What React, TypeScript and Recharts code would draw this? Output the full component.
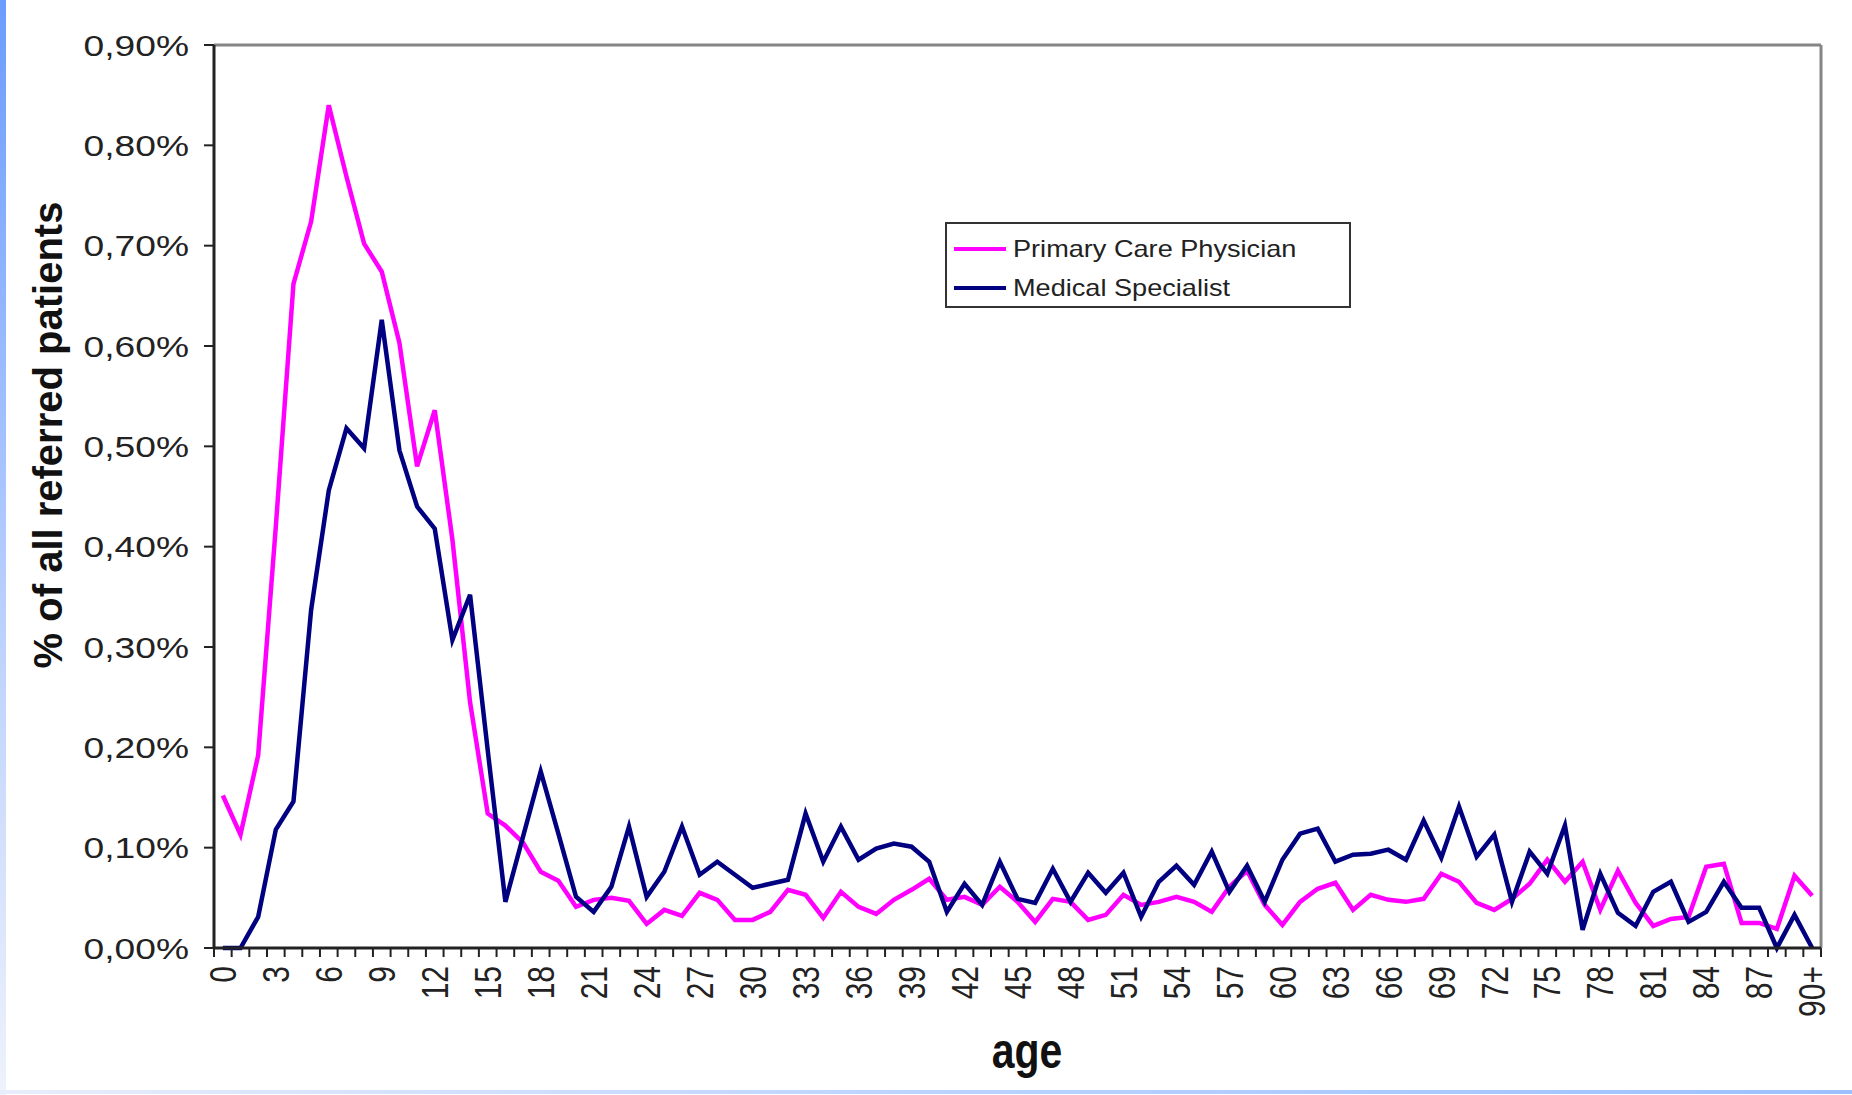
import { LineChart, Line, XAxis, YAxis, Legend, CartesianGrid } from "recharts";

// ages 0..89 plus the open class
const AGES: string[] = Array.from({ length: 90 }, (_, i) => String(i)).concat("90+");

// share of all referred patients, in percent
const PRIMARY_CARE = [
  0.152, 0.113, 0.192, 0.42, 0.662, 0.724, 0.84, 0.769, 0.702, 0.674,
  0.603, 0.48, 0.536, 0.407, 0.245, 0.134, 0.122, 0.105, 0.076, 0.067,
  0.041, 0.048, 0.05, 0.047, 0.024, 0.038, 0.032, 0.055, 0.048, 0.028,
  0.028, 0.036, 0.058, 0.053, 0.03, 0.056, 0.041, 0.034, 0.048, 0.058,
  0.069, 0.048, 0.051, 0.043, 0.061, 0.046, 0.026, 0.049, 0.046, 0.028,
  0.033, 0.053, 0.043, 0.046, 0.051, 0.046, 0.036, 0.061, 0.077, 0.043,
  0.023, 0.046, 0.059, 0.065, 0.038, 0.053, 0.048, 0.046, 0.049, 0.074,
  0.066, 0.045, 0.038, 0.049, 0.064, 0.088, 0.066, 0.086, 0.038, 0.077,
  0.045, 0.022, 0.029, 0.031, 0.081, 0.084, 0.025, 0.025, 0.019, 0.072,
  0.052,
];

const SPECIALIST = [
  0, 0, 0.031, 0.118, 0.146, 0.337, 0.456, 0.518, 0.498, 0.626,
  0.496, 0.44, 0.418, 0.307, 0.352, 0.197, 0.046, 0.111, 0.176, 0.114,
  0.051, 0.036, 0.061, 0.121, 0.051, 0.076, 0.121, 0.073, 0.086, 0.073,
  0.06, 0.064, 0.068, 0.134, 0.086, 0.121, 0.088, 0.099, 0.104, 0.101,
  0.086, 0.036, 0.064, 0.043, 0.086, 0.049, 0.045, 0.079, 0.046, 0.075,
  0.055, 0.075, 0.031, 0.066, 0.082, 0.063, 0.096, 0.056, 0.082, 0.046,
  0.088, 0.114, 0.119, 0.086, 0.093, 0.094, 0.098, 0.088, 0.127, 0.09,
  0.141, 0.091, 0.113, 0.046, 0.096, 0.074, 0.122, 0.018, 0.074, 0.035,
  0.022, 0.056, 0.066, 0.026, 0.036, 0.066, 0.04, 0.04, 0, 0.033,
  0,
];

const Y_TICKS = [0, 0.1, 0.2, 0.3, 0.4, 0.5, 0.6, 0.7, 0.8, 0.9];

const data = AGES.map((age, i) => ({
  age,
  pcp: PRIMARY_CARE[i],
  spec: SPECIALIST[i],
}));

const W = 1852;
const H = 1095;
const M = { top: 45, right: 31, bottom: 47, left: 0 };
const PLOT_W = 1607;
const HALF_BAND = PLOT_W / AGES.length / 2;
const FONT = "'Liberation Sans', Arial, sans-serif";
const INK = "#222";

const fmt = (v: number) => v.toFixed(2).replace(".", ",") + "%";

function YTick({ x, y, payload }: any) {
  return (
    <text
      transform={`translate(${x},${y}) scale(1.24,1)`}
      textAnchor="end"
      dominantBaseline="central"
      fontSize={30}
      fontFamily={FONT}
      fill={INK}
    >
      {fmt(payload.value)}
    </text>
  );
}

function AgeTick({ x, y, payload }: any) {
  const i = AGES.indexOf(payload.value);
  const last = i === AGES.length - 1;
  return (
    <g>
      <line x1={x - HALF_BAND} x2={x - HALF_BAND} y1={y} y2={y + 9} stroke={INK} strokeWidth={2} />
      {last && (
        <line x1={x + HALF_BAND} x2={x + HALF_BAND} y1={y} y2={y + 9} stroke={INK} strokeWidth={2} />
      )}
      {i % 3 === 0 && (
        <text
          transform={`translate(${x},${y + 18}) scale(1.24,1) rotate(-90)`}
          textAnchor="end"
          dominantBaseline="central"
          fontSize={30}
          fontFamily={FONT}
          fill={INK}
        >
          {payload.value}
        </text>
      )}
    </g>
  );
}

function LegendBox() {
  const rows = [
    { name: "Primary Care Physician", color: "#ff00ff", top: 25 },
    { name: "Medical Specialist", color: "#000080", top: 64 },
  ];
  return (
    <div
      style={{
        position: "relative",
        width: 402,
        height: 82,
        border: "2px solid #333",
        background: "#fff",
        fontFamily: FONT,
      }}
    >
      {rows.map((r) => (
        <div key={r.name}>
          <div
            style={{
              position: "absolute",
              left: 7,
              top: r.top - 2,
              width: 52,
              height: 4,
              background: r.color,
            }}
          />
          <span
            style={{
              position: "absolute",
              left: 66,
              top: r.top - 14,
              fontSize: 24,
              lineHeight: "28px",
              color: INK,
              whiteSpace: "nowrap",
              transform: "scaleX(1.13)",
              transformOrigin: "left center",
            }}
          >
            {r.name}
          </span>
        </div>
      ))}
    </div>
  );
}

export default function App() {
  return (
    <div
      style={{
        position: "absolute",
        left: 0,
        top: 0,
        width: W,
        height: H,
        background: "#fff",
        overflow: "hidden",
      }}
    >
      <div
        style={{
          position: "absolute",
          left: 0,
          top: 0,
          width: 6,
          height: H,
          background: "linear-gradient(to bottom, #6b9cff, #b9cffd 55%, #eef2fb)",
        }}
      />
      <div
        style={{
          position: "absolute",
          left: 0,
          top: H - 5,
          width: W,
          height: 4,
          background: "linear-gradient(to right, #e8edfb, #bcd3fd 50%, #9cc0ff)",
        }}
      />
      <LineChart width={W} height={H} data={data} margin={M}>
        {/* grey frame on the top and right edges of the plot */}
        <CartesianGrid
          horizontalPoints={[M.top]}
          verticalPoints={[W - M.right]}
          stroke="#858585"
          strokeWidth={3}
          strokeDasharray=""
        />
        <XAxis
          dataKey="age"
          interval={0}
          height={100}
          padding={{ left: HALF_BAND, right: HALF_BAND }}
          tickLine={false}
          tickSize={0}
          tickMargin={0}
          tick={<AgeTick />}
          axisLine={{ stroke: INK, strokeWidth: 3 }}
          label={() => (
            <text
              transform="translate(1027,1051) scale(0.82,1)"
              textAnchor="middle"
              dominantBaseline="central"
              fontSize={50}
              fontWeight="bold"
              fontFamily={FONT}
              fill="#111"
            >
              age
            </text>
          )}
        />
        <YAxis
          width={214}
          domain={[0, 0.9]}
          ticks={Y_TICKS}
          interval={0}
          tickSize={10}
          tickMargin={15}
          tick={<YTick />}
          tickLine={{ stroke: INK, strokeWidth: 2 }}
          axisLine={{ stroke: INK, strokeWidth: 3 }}
          label={() => (
            <text
              transform="translate(48,435) rotate(-90)"
              textAnchor="middle"
              dominantBaseline="central"
              fontSize={40}
              fontWeight="bold"
              fontFamily={FONT}
              fill="#111"
            >
              % of all referred patients
            </text>
          )}
        />
        <Legend
          layout="vertical"
          align="center"
          verticalAlign="middle"
          content={() => <LegendBox />}
          wrapperStyle={{ left: 945, top: 222, width: 406, height: 86 }}
        />
        <Line
          type="linear"
          dataKey="pcp"
          name="Primary Care Physician"
          stroke="#ff00ff"
          strokeWidth={4.5}
          dot={false}
          isAnimationActive={false}
        />
        <Line
          type="linear"
          dataKey="spec"
          name="Medical Specialist"
          stroke="#000080"
          strokeWidth={4.5}
          dot={false}
          isAnimationActive={false}
        />
      </LineChart>
    </div>
  );
}
